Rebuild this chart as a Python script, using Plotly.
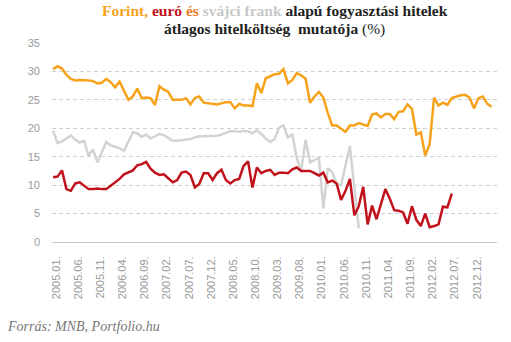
import pandas as pd
import plotly.graph_objects as go

# Monthly periods, 2005.01 – 2013.04
months = [p.strftime("%Y.%m.") for p in pd.period_range("2005-01", "2013-04", freq="M")]

tick_labels = [
    "2005.01.", "2005.06.", "2005.11.", "2006.04.", "2006.09.", "2007.02.",
    "2007.07.", "2007.12.", "2008.05.", "2008.10.", "2009.03.", "2009.08.",
    "2010.01.", "2010.06.", "2010.11.", "2011.04.", "2011.09.", "2012.02.",
    "2012.07.", "2012.12.",
]

# Average cost indicator (%) of consumer loans by currency
forint = [
    30.4, 30.9, 30.5, 29.4, 28.7, 28.4, 28.5, 28.5, 28.4, 28.3,
    27.9, 28.0, 28.7, 28.1, 27.2, 28.2, 26.6, 25.0, 25.6, 27.0,
    25.3, 25.4, 25.3, 24.1, 27.4, 26.8, 26.4, 25.0, 25.0, 25.0,
    25.3, 24.2, 25.3, 25.6, 24.5, 24.4, 24.4, 24.2, 24.4, 24.6,
    24.6, 23.5, 24.3, 24.0, 24.0, 23.9, 27.9, 26.2, 28.8, 29.2,
    29.5, 29.6, 30.4, 27.9, 28.5, 29.7, 29.3, 28.7, 24.5, 25.6,
    26.4, 25.4, 22.7, 20.5, 20.5, 19.9, 19.4, 20.5, 20.5, 20.9,
    20.6, 20.4, 22.4, 22.6, 21.9, 22.5, 22.5, 21.6, 22.9, 23.0,
    24.2, 23.4, 18.9, 19.3, 15.2, 17.2, 25.4, 24.0, 24.5, 24.1,
    25.3, 25.6, 25.8, 25.9, 25.4, 23.5, 25.3, 25.6, 24.3, 23.8,
]

euro = [
    11.4, 11.5, 12.6, 9.3, 9.0, 10.3, 10.5, 9.9, 9.3, 9.3,
    9.4, 9.3, 9.3, 9.9, 10.5, 11.1, 11.9, 12.2, 12.6, 13.5,
    13.7, 14.1, 12.9, 12.2, 11.8, 11.9, 11.2, 10.5, 10.9, 12.2,
    12.4, 11.8, 9.6, 10.2, 12.1, 12.1, 10.9, 12.1, 12.7, 10.9,
    10.3, 10.9, 11.1, 13.4, 14.2, 9.6, 13.1, 12.1, 12.5, 12.7,
    11.8, 12.2, 12.2, 12.1, 12.8, 13.1, 12.5, 12.5, 12.5, 12.1,
    11.7, 12.2, 10.5, 10.8, 10.3, 7.4, 9.0, 11.1, 4.7, 6.3,
    9.7, 3.1, 6.4, 4.0, 6.7, 9.3, 7.6, 5.6, 5.5, 5.2,
    3.2, 6.3, 3.9, 2.8, 5.0, 2.6, 2.8, 3.1, 6.2, 6.1,
    8.5,
]

frank = [
    19.6, 17.4, 17.7, 18.2, 18.7, 18.0, 17.5, 17.8, 15.2, 16.3,
    14.0, 15.8, 17.6, 17.0, 16.7, 16.5, 16.0, 17.8, 19.3, 19.1,
    18.5, 18.9, 18.2, 18.6, 19.0, 18.8, 18.3, 17.8, 17.8, 17.9,
    18.0, 18.1, 18.4, 18.6, 18.6, 18.6, 18.7, 18.7, 18.9, 19.2,
    19.5, 19.5, 19.4, 19.5, 19.5, 19.1, 19.6, 19.0, 18.2, 17.6,
    18.1, 20.1, 20.5, 18.4, 18.9, 14.8, 12.5, 18.0, 14.0, 14.4,
    14.8, 5.9, 13.0, 12.3, 10.2, 10.0, 13.4, 16.9, 9.6, 2.4,
]

C_FORINT = "#F7A21B"
C_EURO = "#C1121C"
C_FRANK = "#D3D3D3"
C_ES = "#EC7F2C"

fig = go.Figure()
for name, vals, col in [
    ("svájci frank", frank, C_FRANK),
    ("Forint", forint, C_FORINT),
    ("euró", euro, C_EURO),
]:
    fig.add_trace(go.Scatter(
        x=months[:len(vals)], y=vals, name=name, mode="lines",
        line=dict(color=col, width=2.5), hoverinfo="x+y+name",
    ))

title1 = (
    f"<b><span style='color:{C_FORINT}'>Forint,</span> "
    f"<span style='color:{C_EURO}'>euró</span> "
    f"<span style='color:{C_ES}'>és</span> "
    f"<span style='color:#C8C8C8'>svájci frank</span> "
    f"alapú fogyasztási hitelek</b>"
)
title2 = "<b>átlagos hitelköltség  mutatója</b> (%)"

fig.update_layout(
    width=511, height=342,
    margin=dict(l=52, r=14, t=43, b=100, autoexpand=False),
    paper_bgcolor="white", plot_bgcolor="white",
    showlegend=False,
    font=dict(family="Liberation Sans", size=11, color="#999999"),
    annotations=[
        dict(text=title1, xref="paper", yref="paper", x=0.5, y=1.165,
             xanchor="center", yanchor="middle", showarrow=False,
             font=dict(family="Liberation Serif", size=15.5, color="#222222")),
        dict(text=title2, xref="paper", yref="paper", x=0.5, y=1.072,
             xanchor="center", yanchor="middle", showarrow=False,
             font=dict(family="Liberation Serif", size=15.5, color="#222222")),
        dict(text="<i>Forrás: MNB, Portfolio.hu</i>", xref="paper", yref="paper",
             x=-0.106, y=-0.425, xanchor="left", yanchor="middle", showarrow=False,
             font=dict(family="Liberation Serif", size=14, color="#777777")),
    ],
)

fig.update_xaxes(
    type="category", categoryorder="array", categoryarray=months,
    range=[-0.25, 100.2],
    tickmode="array", tickvals=tick_labels, ticktext=tick_labels,
    tickangle=-90, ticklabelstandoff=9, ticklabelshift=3,
    showgrid=False, zeroline=False,
    showline=True, linecolor="#C8C8C8", linewidth=1,
    ticks="", tickfont=dict(family="Liberation Sans", size=11, color="#999999"),
)
fig.update_yaxes(
    range=[0, 35], dtick=5, tick0=0,
    showgrid=True, gridcolor="#CFCFCF", griddash="4px,3px", gridwidth=1,
    zeroline=False, showline=False, ticks="",
    ticklabelstandoff=11,
    tickfont=dict(family="Liberation Sans", size=11, color="#999999"),
)

fig.write_html("out.html")
